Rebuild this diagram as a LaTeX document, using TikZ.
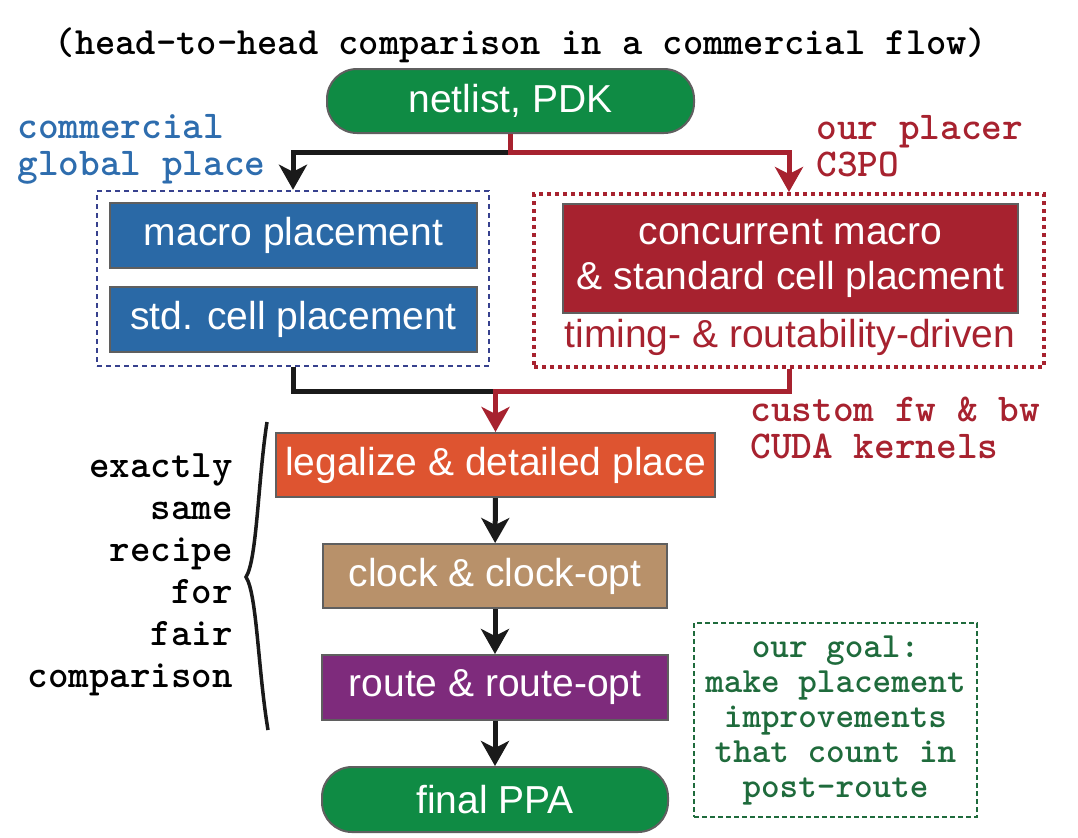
\documentclass[tikz,border=0pt]{standalone}
\usepackage{fontspec}
\setmainfont{Liberation Sans}
\usepackage{tikz}
\usetikzlibrary{arrows.meta}
\definecolor{netgreen}{HTML}{0F8B44}
\definecolor{boxblue}{HTML}{2A69A6}
\definecolor{c3red}{HTML}{A7222F}
\definecolor{legalorange}{HTML}{DE5430}
\definecolor{clocktan}{HTML}{B8916A}
\definecolor{routepurple}{HTML}{7E2B7C}
\definecolor{textblue}{HTML}{2E6DAE}
\definecolor{textgreen}{HTML}{1F6B3C}
\definecolor{dotblue}{HTML}{37418E}
\definecolor{edgegray}{HTML}{5F5F5F}
\definecolor{inkblack}{HTML}{1A1A1A}

\tikzset{
  stage/.style={draw=edgegray, line width=1pt, text=white, inner sep=0pt,
    font=\fontsize{19.5}{22.5}\selectfont, align=center},
  term/.style={stage, fill=netgreen, rounded corners=15pt},
  flowblk/.style={draw=inkblack, line width=2.5pt},
  flowred/.style={draw=c3red, line width=2.5pt},
  tip/.style={-{Stealth[length=12.5pt,width=14pt,inset=3.5pt]}},
  note/.style={font=\ttfamily\bfseries\fontsize{19.7}{18.5}\selectfont, inner sep=0pt}
}

\begin{document}
\begin{tikzpicture}[x=0.5pt,y=-0.5pt]
\useasboundingbox (0,0) rectangle (1078,837);
\node[note, font=\ttfamily\bfseries\fontsize{19.3}{18}\selectfont] (title) at (521,45) {(head-to-head comparison in a commercial flow)};
\node[term, minimum width=183.5pt, minimum height=32pt] (net) at (510.5,101) {netlist, PDK};
% commercial side
\node[draw=dotblue, line width=1.25pt, dash pattern=on 2.5pt off 2pt, minimum width=196pt, minimum height=87.5pt] (glob) at (293,278.5) {};
\node[stage, fill=boxblue, minimum width=183.5pt, minimum height=32.5pt] (macro) at (293.5,235.5) {macro placement};
\node[stage, fill=boxblue, minimum width=183.5pt, minimum height=32.5pt] (stdcell) at (293.5,319.5) {std. cell placement};
\node[note, text=textblue, align=left, anchor=west] (commlbl) at (17,149) {commercial\\global place};
% our side
\node[draw=c3red, line width=2pt, dash pattern=on 2pt off 2pt, minimum width=255pt, minimum height=86.5pt] (c3pofit) at (789,280.5) {};
\node[stage, fill=c3red, minimum width=227.5pt, minimum height=54.5pt] (c3po) at (790.5,258.5) {concurrent macro\\\& standard cell placment};
\node[text=c3red, inner sep=0pt, font=\fontsize{19.5}{22.5}\selectfont, anchor=base] (drive) at (790,347) {timing- \& routability-driven};
\node[note, text=c3red, align=left, anchor=west] (ourlbl) at (816,146.5) {our placer\\C3PO};
\node[note, text=c3red, align=left, anchor=west] (cudalbl) at (750,427.5) {custom fw \& bw\\CUDA kernels};
% common flow
\node[stage, fill=legalorange, minimum width=219.5pt, minimum height=32pt] (legal) at (495.5,465) {legalize \& detailed place};
\node[stage, fill=clocktan, minimum width=172pt, minimum height=32pt] (clock) at (495,576) {clock \& clock-opt};
\node[stage, fill=routepurple, minimum width=173pt, minimum height=32.5pt] (route) at (495,687.5) {route \& route-opt};
\node[term, minimum width=173pt, minimum height=32.5pt] (ppa) at (495,799.5) {final PPA};
\node[note, align=right, anchor=east, font=\ttfamily\bfseries\fontsize{19.5}{21}\selectfont] (recipe) at (233,575) {exactly\\same\\recipe\\for\\fair\\comparison};
\draw[inkblack, line width=1.75pt] (267,422) .. controls (258,480) and (257,560) .. (246,577) .. controls (257,594) and (258,670) .. (268,730);
\node[draw=textgreen, line width=1pt, dash pattern=on 2.5pt off 1.5pt, minimum width=141.5pt, minimum height=97pt, text=textgreen, align=center, inner sep=0pt,
  font=\ttfamily\bfseries\fontsize{17.7}{17.5}\selectfont] (goal) at (835.5,720) {our goal:\\make placement\\improvements\\that count in\\post-route};
% connectors
\coordinate (split) at (510.5,152);
\coordinate (merge) at (495.5,391);
\draw[flowblk, tip] (net.south) -- (split) -| (glob.north);
\draw[flowred, tip] (net.south) -- (split) -| (c3pofit.north);
\draw[flowblk] (glob.south) |- (merge);
\draw[flowred, tip] (c3pofit.south) |- (merge) -- (legal.north);
\draw[flowblk, tip] (legal) -- (clock);
\draw[flowblk, tip] (clock) -- (route);
\draw[flowblk, tip] (route) -- (ppa);
\end{tikzpicture}
\end{document}
